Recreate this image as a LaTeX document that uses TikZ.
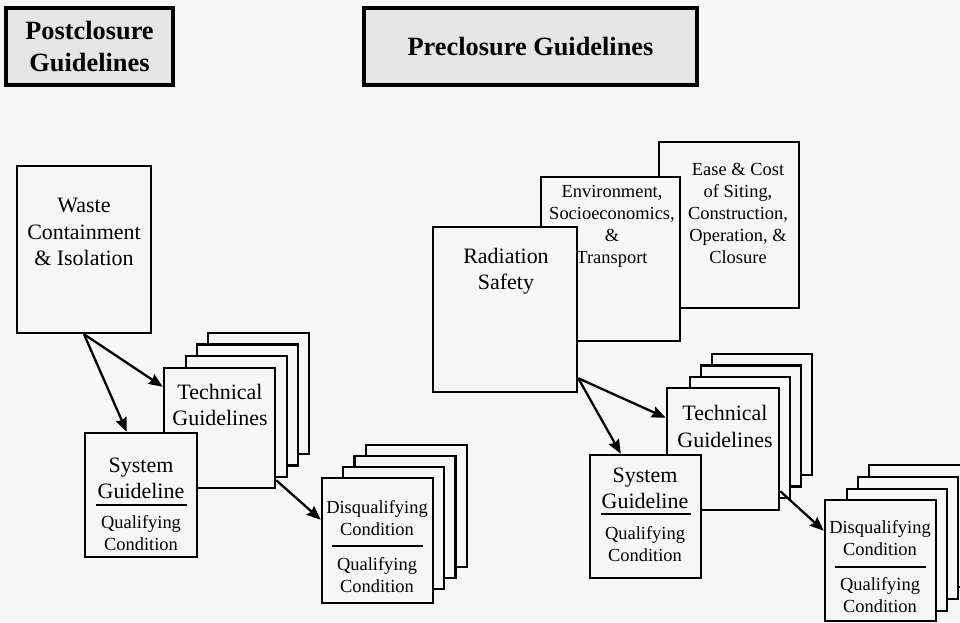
\documentclass[tikz,border=0pt]{standalone}
\usepackage{fontspec}
\setmainfont{Liberation Serif}
\usepackage{tikz}
\usepackage{xcolor}
\usetikzlibrary{arrows.meta, positioning, calc}

\definecolor{paper}{RGB}{247,247,247}

\tikzset{
	sheet/.style 2 args={draw, fill=paper, line width=1.4pt, inner sep=0pt,
		minimum width=#1*0.02cm, minimum height=#2*0.02cm},
	headbox/.style 2 args={draw, fill=black!10, line width=2.4pt, inner sep=0pt,
		minimum width=#1*0.02cm, minimum height=#2*0.02cm, align=center,
		font=\bfseries\fontsize{15}{18.5}\selectfont},
	bigtext/.style={font=\fontsize{12.5}{15}\selectfont, align=center, inner sep=0pt},
	smalltext/.style={font=\fontsize{10.5}{12.5}\selectfont, align=center, inner sep=0pt},
	link/.style={-{Stealth[length=8pt,width=6.5pt,inset=1pt]}, line width=1.3pt},
	divider/.style={line width=1.3pt}
}

\begin{document}
\begin{tikzpicture}[x=0.02cm, y=-0.02cm]
		\fill[paper] (0,0) rectangle (960,622);
		\useasboundingbox (0,0) rectangle (960,622);
		\clip (0,0) rectangle (960,622);
		
		% Headings
		\node[headbox={167}{77}] (post) at (89.5,46.5) {Postclosure\\Guidelines};
		\node[headbox={333}{77}] (pre) at (530.5,46.5) {Preclosure Guidelines};
		
		% Postclosure side
		\node[sheet={134}{167}] (waste) at (84,249.5) {};
		\node[bigtext] (wasteT) at (84,232) {Waste\\Containment\\\& Isolation};
		
		\foreach \k in {3,2,1}
			\node[sheet={101}{121}] (techL\k) at ({225.5+11*\k},{428-11.5*\k}) {};
		\node[sheet={111}{120}] (techL) at (219.5,428) {};
		\node[bigtext] (techLT) at (220,405) {Technical\\Guidelines};
		
		\node[sheet={112}{124}] (sysL) at (141,495) {};
		\node[bigtext] (sysLT) at (141,478.5) {System\\Guideline};
		\draw[divider] (96,505) -- (187,505);
		\node[smalltext] (sysLQ) at (141,533.5) {Qualifying\\Condition};
		
		\foreach \k in {3,2,1}
			\node[sheet={101}{122}] (disqL\k) at ({382+11.5*\k},{539-11*\k}) {};
		\node[sheet={111}{125}] (disqL) at (377.5,540.5) {};
		\node[smalltext] (disqLT) at (377,518) {Disqualifying\\Condition};
		\draw[divider] (332,546) -- (423,546);
		\node[smalltext] (disqLQ) at (377,575) {Qualifying\\Condition};
		
		\draw[link] (waste.south) -- ($(techL.north west)+(0,20)$);
		\draw[link] (waste.south) -- ($(sysL.north west)+(43,0)$);
		\draw[link] ($(techL.south east)+(0,-9)$) -- ($(disqL.north west)+(0,43)$);
		
		% Preclosure side
		\node[sheet={140}{166}] (ease) at (729,225) {};
		\node[smalltext] (easeT) at (738,213.5) {Ease \& Cost\\of Siting,\\Construction,\\Operation, \&\\Closure};
		\node[sheet={139}{164}] (env) at (610.5,259) {};
		\node[smalltext] (envT) at (612,226) {Environment,\\Socioeconomics,\\\&\\Transport};
		\node[sheet={144}{165}] (rad) at (505,309.5) {};
		\node[bigtext] (radT) at (506,271) {Radiation\\Safety};
		
		\foreach \k in {3,2,1}
			\node[sheet={100}{121}] (techR\k) at ({729+11*\k},{449-11.5*\k}) {};
		\node[sheet={112}{122}] (techR) at (723,449) {};
		\node[bigtext] (techRT) at (725,426.5) {Technical\\Guidelines};
		
		\node[sheet={111}{123}] (sysR) at (645.5,516.5) {};
		\node[bigtext] (sysRT) at (645,488.5) {System\\Guideline};
		\draw[divider] (601,514) -- (691,514);
		\node[smalltext] (sysRQ) at (645,544) {Qualifying\\Condition};
		
		\foreach \k in {3,2,1}
			\node[sheet={100}{122}] (disqR\k) at ({886+11*\k},{562-12*\k}) {};
		\node[sheet={111}{121}] (disqR) at (880.5,560.5) {};
		\node[smalltext] (disqRT) at (880,538.5) {Disqualifying\\Condition};
		\draw[divider] (835,567) -- (926,567);
		\node[smalltext] (disqRQ) at (880,595) {Qualifying\\Condition};
		
		\draw[link] ($(rad.south east)+(0,-15)$) -- ($(techR.north west)+(0,31)$);
		\draw[link] ($(rad.south east)+(0,-15)$) -- ($(sysR.north west)+(32,0)$);
		\draw[link] ($(techR.south east)+(0,-20)$) -- ($(disqR.north west)+(0,32)$);
	\end{tikzpicture}
\end{document}
